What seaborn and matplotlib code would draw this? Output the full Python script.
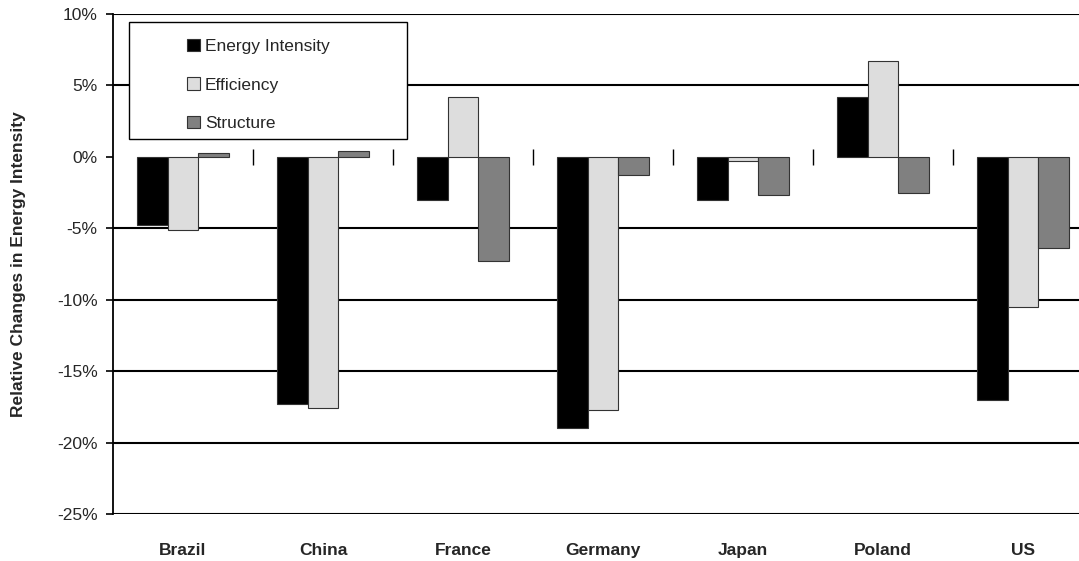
import matplotlib
matplotlib.use("Agg")
import matplotlib.pyplot as plt
from matplotlib.patches import Rectangle
from matplotlib.ticker import FuncFormatter, FixedLocator
import seaborn as sns
import pandas as pd

# Decomposition of the change in energy intensity (percent)
countries = ["Brazil", "China", "France", "Germany", "Japan", "Poland", "US"]
components = ["Energy Intensity", "Efficiency", "Structure"]
energy_intensity = [-4.8, -17.3, -3.0, -19.0, -3.0, 4.2, -17.0]
efficiency = [-5.1, -17.6, 4.2, -17.7, -0.3, 6.7, -10.5]
structure = [0.3, 0.4, -7.3, -1.3, -2.7, -2.5, -6.4]
y_ticks = [10, 5, 0, -5, -10, -15, -20, -25]
bar_colors = ["#000000", "#dddddd", "#808080"]

series = {
    "Energy Intensity": energy_intensity,
    "Efficiency": efficiency,
    "Structure": structure,
}
df = pd.DataFrame(
    [
        {"country": c, "component": comp, "value": v}
        for comp in components
        for c, v in zip(countries, series[comp])
    ]
)

sns.set_style("white")
plt.rcParams["font.family"] = ["Liberation Sans", "DejaVu Sans"]

W, H = 1079, 561
fig = plt.figure(figsize=(W / 100, H / 100), dpi=100)
left, right, top, bottom = 113, 1093, 14, 514
ax = fig.add_axes([left / W, (H - bottom) / H, (right - left) / W, (bottom - top) / H])

sns.barplot(
    data=df, x="country", y="value", hue="component",
    order=countries, hue_order=components, palette=bar_colors,
    width=0.66, gap=0, errorbar=None, edgecolor="#333333", linewidth=0.8,
    ax=ax, zorder=2,
)

ax.set_ylim(-25, 10)
ax.set_xlim(-0.5, len(countries) - 0.5)
ax.yaxis.set_major_locator(FixedLocator(y_ticks))
ax.yaxis.set_major_formatter(FuncFormatter(lambda v, _: f"{v:.0f}%"))

# horizontal gridlines (the zero line is drawn as the category axis)
for t in y_ticks:
    if t != 0:
        ax.axhline(t, color="black", linewidth=1.5, zorder=0.5)

for s in ["top", "right", "bottom"]:
    ax.spines[s].set_visible(False)
ax.spines["left"].set_color("black")
ax.spines["left"].set_linewidth(1.3)

ax.tick_params(axis="y", direction="out", length=5, width=1.2, color="black",
               pad=6, labelsize=12.5, left=True)
ax.tick_params(axis="x", length=0, pad=21)
for lbl in ax.get_xticklabels():
    lbl.set_fontweight("bold")
    lbl.set_fontsize(12.5)
ax.set_xlabel("")
ax.set_ylabel("Relative Changes in Energy Intensity", fontsize=12.5,
              fontweight="bold", labelpad=22)

# category axis crossing at zero with separator ticks between groups
zero_frac = (0 - (-25)) / 35
sec = ax.secondary_xaxis(zero_frac)
sec.set_xticks([i + 0.5 for i in range(len(countries) - 1)])
sec.set_xticklabels([])
sec.tick_params(axis="x", direction="inout", length=12, width=1, color="black")
sec.spines["bottom"].set_linewidth(1.0)
sec.spines["bottom"].set_color("black")
sec.spines["top"].set_visible(False)

# legend with its own bordered box
handles, labels = ax.get_legend_handles_labels()
if ax.get_legend() is not None:
    ax.get_legend().remove()
box = Rectangle((0.0163, 0.75), 0.2837, 0.234, transform=ax.transAxes,
                facecolor="white", edgecolor="black", linewidth=1, zorder=4)
ax.add_patch(box)
leg = ax.legend(handles, labels, loc="upper left", bbox_to_anchor=(0.076, 0.95),
                frameon=False, fontsize=12.5, handlelength=0.7, handleheight=0.7,
                handletextpad=0.3, labelspacing=1.34, borderpad=0, borderaxespad=0)
leg.set_zorder(5)

fig.savefig("out.png", dpi=100)
